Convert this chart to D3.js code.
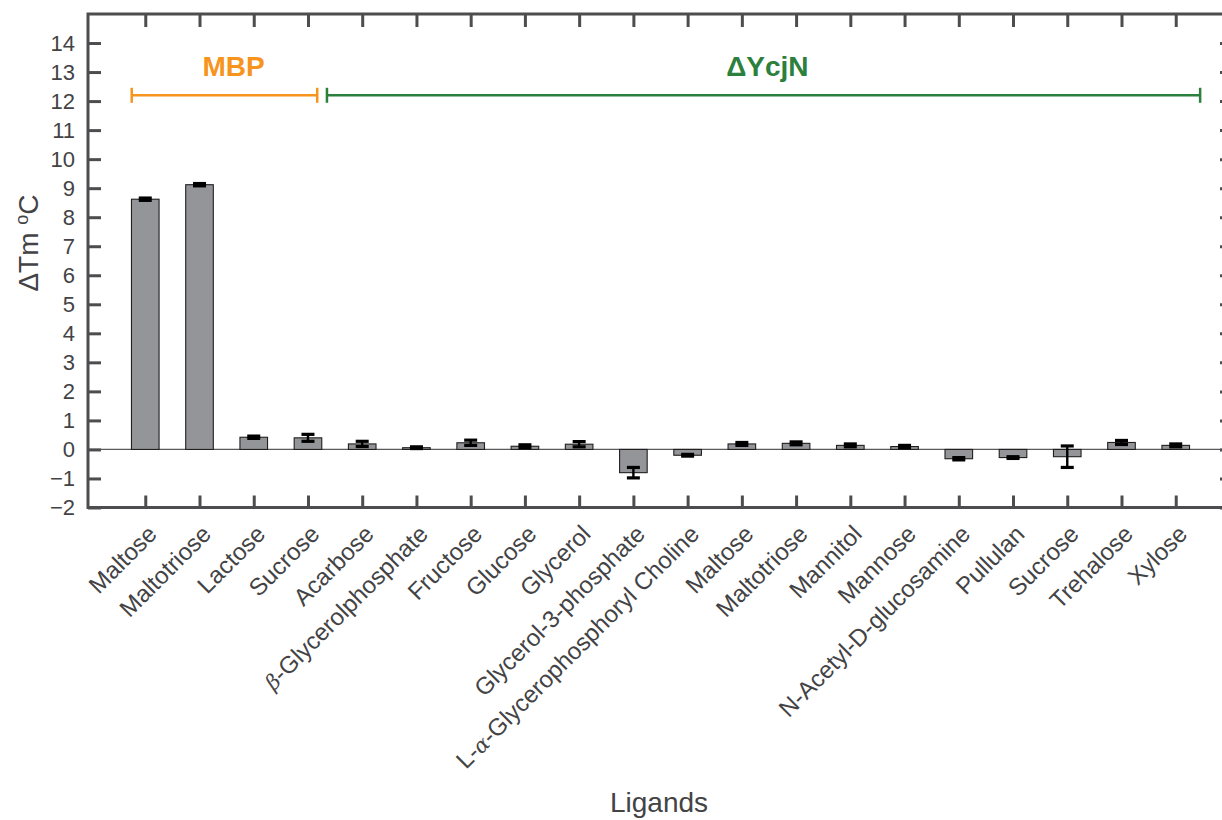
<!DOCTYPE html>
<html><head><meta charset="utf-8">
<script src="https://cdn.jsdelivr.net/npm/d3@7"></script>
<style>body{margin:0;background:#fff;} text{font-family:"Liberation Sans",Arial,Helvetica,sans-serif;}</style>
</head><body><svg id="c" width="1222" height="820"></svg>
<script>
const categories = ["Maltose","Maltotriose","Lactose","Sucrose","Acarbose","β-Glycerolphosphate","Fructose","Glucose","Glycerol","Glycerol-3-phosphate","L-α-Glycerophosphoryl Choline","Maltose","Maltotriose","Mannitol","Mannose","N-Acetyl-D-glucosamine","Pullulan","Sucrose","Trehalose","Xylose"];
const values = [8.62,9.12,0.42,0.40,0.19,0.06,0.23,0.11,0.18,-0.80,-0.20,0.19,0.21,0.14,0.10,-0.32,-0.28,-0.25,0.24,0.14];
const errors = [0.04,0.04,0.04,0.12,0.09,0.03,0.09,0.05,0.09,0.18,0.03,0.05,0.05,0.05,0.04,0.04,0.03,0.37,0.07,0.05];
const yTicks = [-2,-1,0,1,2,3,4,5,6,7,8,9,10,11,12,13,14];
const groups = [{name:"MBP", from:0.75, to:4.17, labelAt:2.63, color:"#f7941d"},{name:"ΔYcjN", from:4.35, to:20.45, labelAt:12.47, color:"#2b803e"}];
const groupLevel = 12.2;

const svg = d3.select("#c");
const L=88, R=1233, T=14, B=507.5;
const x = d3.scaleLinear().domain([-0.056, 21.056]).range([L, R]);
const y = d3.scaleLinear().domain([-2, 15]).range([B, T]);
const axisColor = "#4d4d4f";
const textColor = "#434345";
const idx = d3.range(1, categories.length+1);
const bw = 27.6;

// zero line
svg.append("line").attr("x1",L).attr("x2",R).attr("y1",y(0)).attr("y2",y(0)).attr("stroke","#5a5a5c").attr("stroke-width",1.2);

// bars
svg.append("g").selectAll("rect").data(values).join("rect")
  .attr("x",(d,i)=>x(i+1)-bw/2).attr("width",bw)
  .attr("y",d=>y(Math.max(0,d))).attr("height",d=>Math.abs(y(d)-y(0)))
  .attr("fill","#939598").attr("stroke","#231f20").attr("stroke-width",1.1);

// error bars
const eg = svg.append("g").attr("stroke","#000");
values.forEach((v,i)=>{
  const cx=x(i+1), e=errors[i];
  eg.append("line").attr("x1",cx).attr("x2",cx).attr("y1",y(v-e)).attr("y2",y(v+e)).attr("stroke-width",2.4);
  [v-e,v+e].forEach(t=>eg.append("line").attr("x1",cx-6.5).attr("x2",cx+6.5).attr("y1",y(t)).attr("y2",y(t)).attr("stroke-width",3.2));
});

// axes
const ax = svg.append("g").attr("color",axisColor);
const gLeft = ax.append("g").attr("transform",`translate(${L},0)`).call(d3.axisLeft(y).tickValues(yTicks).tickSize(-13).tickPadding(13));
ax.append("g").attr("transform",`translate(${R},0)`).call(d3.axisRight(y).tickValues(yTicks).tickSize(-13).tickFormat(""));
ax.append("g").attr("transform",`translate(0,${B})`).call(d3.axisBottom(x).tickValues(idx).tickSize(-12).tickFormat(""));
ax.append("g").attr("transform",`translate(0,${T})`).call(d3.axisTop(x).tickValues(idx).tickSize(-13).tickFormat(""));
ax.selectAll(".domain").remove();
ax.selectAll(".tick line").attr("stroke-width",3);
gLeft.selectAll("text").attr("font-size",22).attr("fill",textColor).attr("font-family","'Liberation Sans',Arial,sans-serif");
svg.append("rect").attr("x",L).attr("y",T).attr("width",R-L).attr("height",B-T).attr("fill","none").attr("stroke",axisColor).attr("stroke-width",3);

// x labels
const xl = svg.append("g");
categories.forEach((c,i)=>{
  const t = xl.append("text").attr("transform",`translate(${x(i+1)+13},${B+28}) rotate(-45)`)
    .attr("text-anchor","end").attr("font-size",24).attr("fill",textColor);
  const m = c.match(/[αβ]/);
  if(m){
    const parts = c.split(m[0]);
    t.append("tspan").text(parts[0]);
    t.append("tspan").text(m[0]).attr("font-family","'DejaVu Serif',serif").attr("font-style","italic").attr("font-size",21);
    t.append("tspan").text(parts[1]);
  } else t.text(c);
});

// axis titles
svg.append("text").attr("x",659).attr("y",812).attr("text-anchor","middle").attr("font-size",28).attr("fill",textColor).text("Ligands");
const yl = svg.append("text").attr("transform",`translate(38,243) rotate(-90)`).attr("text-anchor","middle").attr("font-size",28).attr("fill",textColor);
yl.append("tspan").text("ΔTm ");
yl.append("tspan").text("o").attr("font-size",18).attr("dy",-10);
yl.append("tspan").text("C").attr("dy",10);

// group brackets
groups.forEach(g=>{
  const gg = svg.append("g").attr("stroke",g.color).attr("stroke-width",2.5);
  gg.append("line").attr("x1",x(g.from)).attr("x2",x(g.to)).attr("y1",y(groupLevel)).attr("y2",y(groupLevel));
  [g.from,g.to].forEach(p=>gg.append("line").attr("x1",x(p)).attr("x2",x(p)).attr("y1",y(groupLevel)-7.5).attr("y2",y(groupLevel)+7.5));
  svg.append("text").attr("x",x(g.labelAt)).attr("y",y(groupLevel)-19.5).attr("text-anchor","middle")
    .attr("font-size",28).attr("font-weight","bold").attr("fill",g.color).text(g.name);
});
</script></body></html>
